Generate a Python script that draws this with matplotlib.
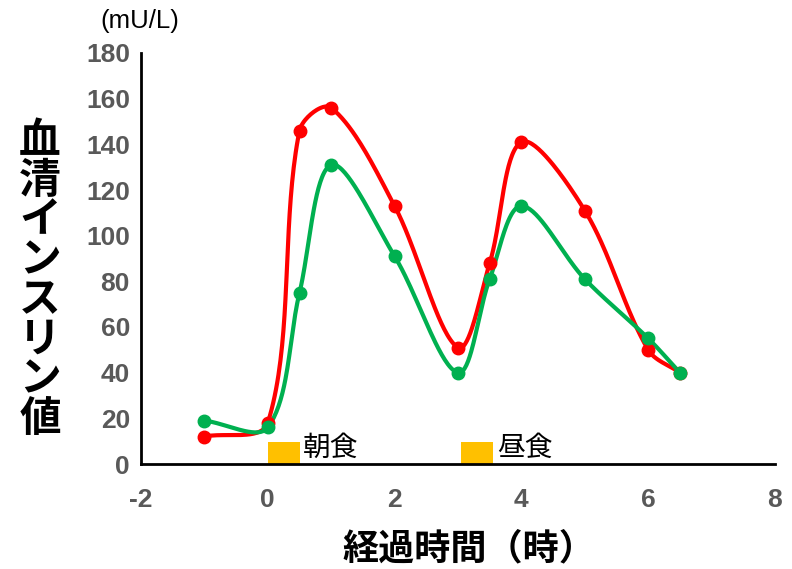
import matplotlib.pyplot as plt
import numpy as np

# Data
hours = [-1, 0, 0.5, 1, 2, 3, 3.5, 4, 5, 6, 6.5]
insulin_red = [12, 18, 146, 156, 113, 51, 88, 141, 111, 50, 40]
insulin_green = [19, 16, 75, 131, 91, 40, 81, 113, 81, 55, 40]
meal_labels = ['朝食', '昼食']
meal_start = [0, 3.05]
meal_width = 0.5
meal_height = 9.5

plt.rcParams['font.family'] = ['Liberation Sans', 'Noto Sans CJK JP', 'DejaVu Sans']
plt.rcParams['axes.unicode_minus'] = False
cjk = ['Noto Sans CJK JP', 'DejaVu Sans']


def smooth(xs, ys, sx=63.4, sy=2.28, n=40):
    # Bezier pieces; control arms scaled by neighbouring segment lengths
    p = np.column_stack([np.asarray(xs) * sx, np.asarray(ys) * sy]).astype(float)
    p = np.vstack([p[0], p, p[-1]])
    t = np.linspace(0, 1, n)[:, None]
    out = []
    for i in range(1, len(p) - 2):
        p0, p1, p2, p3 = p[i - 1], p[i], p[i + 1], p[i + 2]
        d01 = np.hypot(*(p1 - p0))
        d12 = np.hypot(*(p2 - p1))
        d23 = np.hypot(*(p3 - p2))
        c1 = p1 + (p2 - p0) * d12 / (3 * (d01 + d12))
        c2 = p2 - (p3 - p1) * d12 / (3 * (d12 + d23))
        seg = ((1 - t) ** 3) * p1 + 3 * ((1 - t) ** 2) * t * c1 \
            + 3 * (1 - t) * t ** 2 * c2 + t ** 3 * p2
        out.append(seg if i == 1 else seg[1:])
    out = np.vstack(out)
    return out[:, 0] / sx, out[:, 1] / sy


fig = plt.figure(figsize=(7.92, 5.69), dpi=100)
ax = fig.add_axes([141 / 792, 1 - 464 / 569, 634 / 792, 411 / 569])

for ys, color in [(insulin_red, '#FF0000'), (insulin_green, '#00B050')]:
    cx, cy = smooth(hours, ys)
    ax.plot(cx, cy, color=color, lw=3, solid_capstyle='round', zorder=3)
    ax.plot(hours, ys, 'o', color=color, ms=9, zorder=4)

for x0, label in zip(meal_start, meal_labels):
    ax.bar(x0, meal_height, width=meal_width, align='edge', color='#FFC000', zorder=2)
    ax.text(x0 + meal_width + 0.06, 0.5, label, fontsize=20, family=cjk,
            va='bottom', ha='left')

ax.set_xlim(-2, 8)
ax.set_ylim(0, 180)
ax.set_xticks(range(-2, 9, 2))
ax.set_yticks(range(0, 181, 20))
ax.tick_params(length=0, labelsize=19, labelcolor='#595959')
ax.tick_params(axis='y', pad=8)
ax.tick_params(axis='x', pad=17)
for lbl in ax.get_xticklabels() + ax.get_yticklabels():
    lbl.set_fontweight('bold')

for side in ['top', 'right']:
    ax.spines[side].set_visible(False)
for side in ['left', 'bottom']:
    ax.spines[side].set_linewidth(2)

fig.text(469 / 792, 1 - 549 / 569, '経過時間（時）', fontsize=26, fontweight='bold',
         family=cjk, ha='center', va='center')
fig.text(40 / 792, 1 - 280 / 569, '\n'.join('血清インスリン値'), fontsize=30,
         fontweight='bold', family=cjk, ha='center', va='center', linespacing=0.93)
fig.text(100 / 792, 1 - 21 / 569, '(mU/L)', fontsize=18.5, ha='left', va='center')

plt.savefig('out.png')
